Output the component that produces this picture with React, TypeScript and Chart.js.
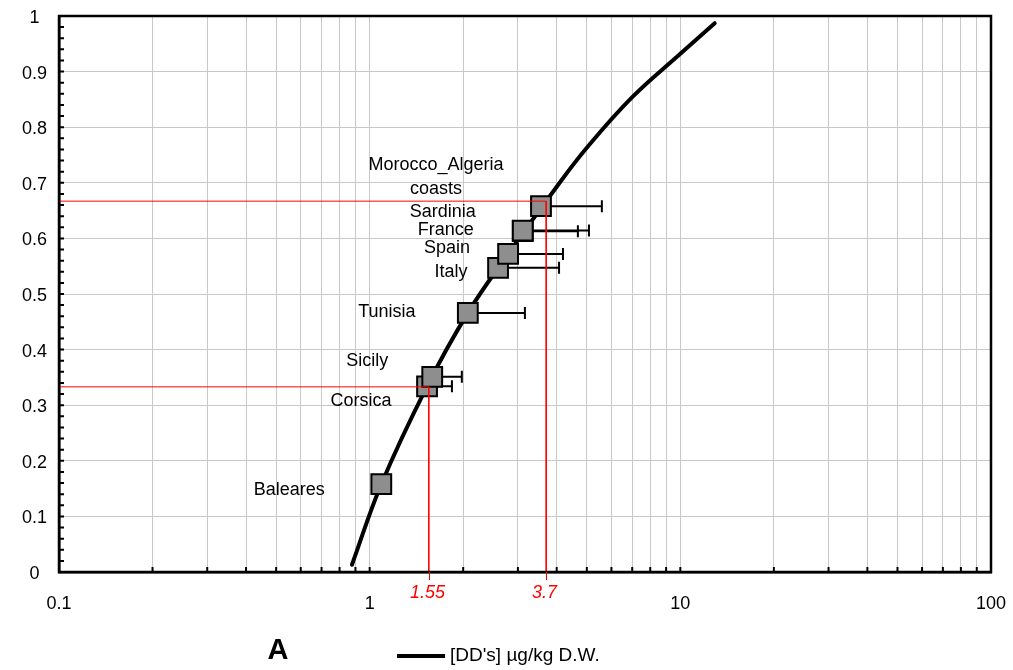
import React, { useEffect, useRef } from "react";
import { Chart, registerables } from "chart.js";

Chart.register(...registerables);

// ---------------- data ----------------
const siteNames: string[][] = [
  ["Baleares"],
  ["Corsica"],
  ["Sicily"],
  ["Tunisia"],
  ["Italy"],
  ["Spain"],
  ["France"],
  ["Sardinia"],
  ["Morocco_Algeria", "coasts"],
];
const siteConc = [1.09, 1.53, 1.59, 2.07, 2.59, 2.79, 3.11, 3.11, 3.56];
const siteFrac = [0.158, 0.334, 0.351, 0.466, 0.547, 0.572, 0.613, 0.614, 0.658];
const siteErrHigh: (number | null)[] = [null, 1.84, 1.98, 3.16, 4.07, 4.19, 4.68, 5.08, 5.59];

const curveConc = [0.877, 1.09, 1.53, 2.07, 2.79, 4.0, 5.0, 7.0, 10.0, 12.9];
const curveFrac = [0.013, 0.158, 0.334, 0.466, 0.572, 0.693, 0.763, 0.854, 0.932, 0.987];

const refConc = [1.55, 3.7];
const refFrac = [0.333, 0.667];
const refLabels = ["1.55", "3.7"];

const xDecades = [0.1, 1, 10];
const xMultipliers = [1, 2, 3, 4, 5, 6, 7, 8, 9];
const xTickValues = [...xDecades.flatMap((d) => xMultipliers.map((m) => +(m * d).toPrecision(3))), 100];
const yMinorStep = 0.02;

const legendLabel = "[DD's] µg/kg D.W.";
const panelLetter = "A";

// label placement (pixel offsets of text centre from each square)
const labelOffsets: [number, number][] = [
  [-92, 6],
  [-66, 15],
  [-65, -16],
  [-81, -1],
  [-47, 4],
  [-61, -6],
  [-77, -1],
  [-80, -19],
  [-105, -41],
];

const FONT = 'Arial, "Liberation Sans", Helvetica, sans-serif';

const overlayPlugin = {
  id: "overlay",
  beforeDatasetsDraw(chart: any) {
    const { ctx, scales } = chart;
    const x = scales.x;
    const y = scales.y;
    ctx.save();
    ctx.strokeStyle = "#000";
    ctx.lineWidth = 2;
    siteConc.forEach((c, i) => {
      const hi = siteErrHigh[i];
      if (hi == null) return;
      const px0 = x.getPixelForValue(c);
      const px1 = x.getPixelForValue(hi);
      const py = y.getPixelForValue(siteFrac[i]);
      ctx.beginPath();
      ctx.moveTo(px0, py);
      ctx.lineTo(px1, py);
      ctx.moveTo(px1, py - 6);
      ctx.lineTo(px1, py + 6);
      ctx.stroke();
    });
    ctx.restore();
  },
  afterDraw(chart: any) {
    const { ctx, chartArea, scales } = chart;
    const x = scales.x;
    const y = scales.y;
    ctx.save();

    // minor ticks (inside)
    ctx.strokeStyle = "#000";
    ctx.lineWidth = 2;
    ctx.beginPath();
    xTickValues.forEach((v) => {
      const px = x.getPixelForValue(v);
      ctx.moveTo(px, chartArea.bottom);
      ctx.lineTo(px, chartArea.bottom - 5);
    });
    for (let v = 0; v <= 1.0001; v += yMinorStep) {
      const py = y.getPixelForValue(v);
      ctx.moveTo(chartArea.left, py);
      ctx.lineTo(chartArea.left + 5, py);
    }
    ctx.stroke();

    // frame
    ctx.lineWidth = 2.5;
    ctx.strokeRect(chartArea.left, chartArea.top, chartArea.right - chartArea.left, chartArea.bottom - chartArea.top);

    // red reference ticks + labels
    ctx.strokeStyle = "#ff0000";
    ctx.lineWidth = 1;
    ctx.fillStyle = "#ff0000";
    ctx.font = `italic 18px ${FONT}`;
    ctx.textAlign = "center";
    ctx.textBaseline = "middle";
    refConc.forEach((c, i) => {
      const px = Math.round(x.getPixelForValue(c)) + 0.5;
      ctx.beginPath();
      ctx.moveTo(px, chartArea.bottom);
      ctx.lineTo(px, chartArea.bottom + 8);
      ctx.stroke();
      ctx.fillText(refLabels[i], px - 2, chartArea.bottom + 21);
    });

    // site labels
    ctx.fillStyle = "#000";
    ctx.font = `18px ${FONT}`;
    siteNames.forEach((lines, i) => {
      const px = x.getPixelForValue(siteConc[i]) + labelOffsets[i][0];
      const py = y.getPixelForValue(siteFrac[i]) + labelOffsets[i][1];
      lines.forEach((t, j) => ctx.fillText(t, px, py + j * 24));
    });

    // legend
    ctx.font = `bold 29px ${FONT}`;
    ctx.fillText(panelLetter, 278, 651);
    ctx.strokeStyle = "#000";
    ctx.lineWidth = 4;
    ctx.beginPath();
    ctx.moveTo(397, 656);
    ctx.lineTo(445, 656);
    ctx.stroke();
    ctx.font = `19px ${FONT}`;
    ctx.textAlign = "left";
    ctx.fillText(legendLabel, 450, 656);

    ctx.restore();
  },
};

export default function App() {
  const ref = useRef<HTMLCanvasElement | null>(null);
  useEffect(() => {
    if (!ref.current) return;
    const chart = new Chart(ref.current, {
      type: "scatter",
      data: {
        datasets: [
          ...refConc.map((c, i) => ({
            type: "line" as const,
            label: "ref" + i,
            data: [
              { x: 0.1, y: refFrac[i] },
              { x: c, y: refFrac[i] },
              { x: c, y: 0 },
            ],
            borderColor: "#ff0000",
            borderWidth: 1,
            pointRadius: 0,
            tension: 0,
            fill: false,
            order: 1,
          })),
          {
            type: "scatter" as const,
            label: "sites",
            data: siteConc.map((c, i) => ({ x: c, y: siteFrac[i] })),
            pointStyle: "rect",
            pointRadius: 14,
            pointHoverRadius: 14,
            backgroundColor: "#8e8e8e",
            borderColor: "#000",
            borderWidth: 2,
            order: 2,
          },
          {
            type: "line" as const,
            label: legendLabel,
            data: curveConc.map((c, i) => ({ x: c, y: curveFrac[i] })),
            borderColor: "#000",
            borderWidth: 4,
            borderCapStyle: "round",
            borderJoinStyle: "round",
            pointRadius: 0,
            tension: 0.4,
            fill: false,
            order: 3,
          },
        ],
      },
      options: {
        animation: false,
        responsive: true,
        maintainAspectRatio: false,
        layout: { padding: { left: 0, right: 22, top: 16, bottom: 0 } },
        plugins: { legend: { display: false }, tooltip: { enabled: false } },
        events: [],
        scales: {
          x: {
            type: "logarithmic",
            min: 0.1,
            max: 100,
            afterBuildTicks: (scale: any) => {
              scale.ticks = xTickValues.map((v) => ({ value: v }));
            },
            afterFit: (scale: any) => {
              scale.height = 98;
              scale.paddingLeft = 0;
              scale.paddingRight = 0;
            },
            ticks: {
              autoSkip: false,
              maxRotation: 0,
              minRotation: 0,
              padding: 21,
              color: "#000",
              font: { family: FONT, size: 18 },
              callback: (v: any) => {
                const l = Math.log10(Number(v));
                return Math.abs(l - Math.round(l)) < 1e-6 ? String(Number(v)) : "";
              },
            },
            grid: { color: "#c8c8c8", lineWidth: 1, drawTicks: false },
            border: { color: "#000", width: 2.5 },
          },
          y: {
            type: "linear",
            min: 0,
            max: 1,
            afterFit: (scale: any) => {
              scale.width = 59;
              scale.paddingTop = 0;
              scale.paddingBottom = 0;
            },
            ticks: {
              stepSize: 0.1,
              crossAlign: "center",
              padding: 12,
              labelOffset: 2,
              color: "#000",
              font: { family: FONT, size: 18 },
              callback: (v: any) => String(Number(Number(v).toFixed(1))),
            },
            grid: { color: "#c8c8c8", lineWidth: 1, drawTicks: false },
            border: { color: "#000", width: 2.5 },
          },
        },
      },
      plugins: [overlayPlugin],
    } as any);
    return () => chart.destroy();
  }, []);
  return (
    <div style={{ position: "fixed", left: 0, top: 0, width: 1013, height: 670, background: "#fff" }}>
      <canvas ref={ref} />
    </div>
  );
}
